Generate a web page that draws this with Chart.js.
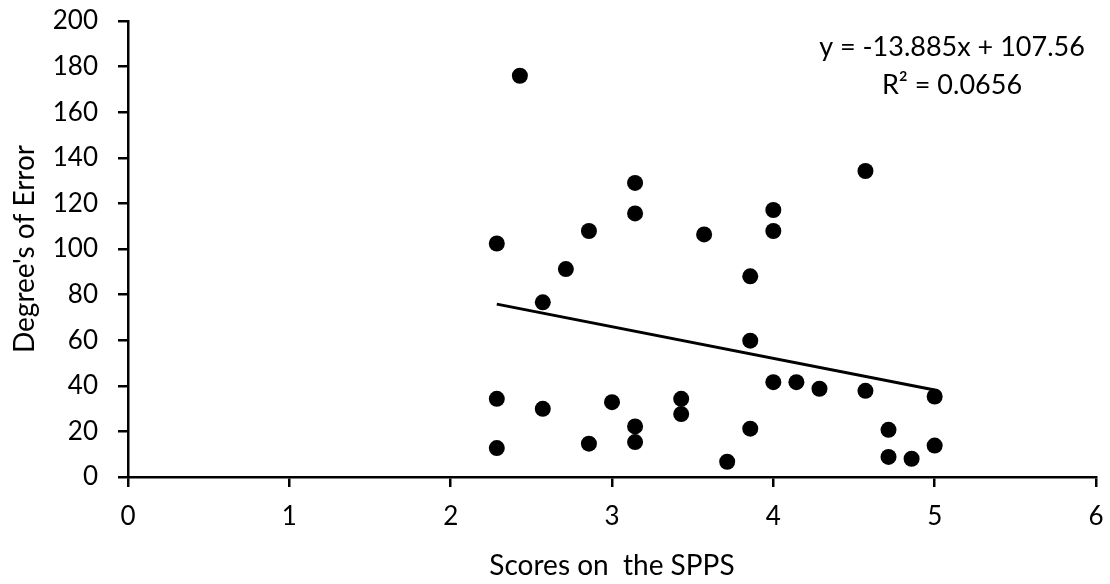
<!DOCTYPE html>
<html>
<head>
<meta charset="utf-8">
<script src="https://cdn.jsdelivr.net/npm/chart.js@4.4.1/dist/chart.umd.min.js"></script>
<style>
    html, body { margin: 0; padding: 0; background: #ffffff; }
    #wrap { width: 1110px; height: 584px; }
</style>
</head>
<body>
<div id="wrap"><canvas id="mainChart" width="1110" height="584"></canvas></div>
<script>
// scores on the SPPS (x) and degree's of error (y)
const SCORES = [2.429, 2.286, 2.857, 3.143, 3.143, 3.571, 4, 4, 2.714, 2.571, 3.857,
    3.857, 4, 2.286, 2.571, 3, 3.429, 3.429, 3.143, 3.143, 2.857, 2.286, 3.714,
    3.857, 4.143, 4.286, 4.571, 5, 4.714, 4.714, 4.857, 5, 4.571];
const ERRORS = [176, 102.4, 107.9, 129, 115.6, 106.4, 117.1, 107.9, 91.2, 76.6, 88,
    59.8, 41.6, 34.3, 29.9, 32.8, 34.3, 27.6, 22.2, 15.3, 14.6, 12.7, 6.7,
    21.2, 41.6, 38.7, 37.8, 35.3, 20.7, 8.8, 8.0, 13.8, 134.2];

// linear trendline as printed on the chart
const TREND_SLOPE = -13.885;
const TREND_INTERCEPT = 107.56;
const TREND_LABELS = ['y = -13.885x + 107.56', 'R\u00b2 = 0.0656'];

const X_TITLE = 'Scores on  the SPPS';
const Y_TITLE = "Degree's of Error";

function main() {
    Chart.defaults.font.family = 'Lato';
    Chart.defaults.font.size = 26;
    Chart.defaults.color = '#000000';

    const POINTS = SCORES.map((s, i) => ({ x: s, y: ERRORS[i] }));
    const X_LO = Math.min(...SCORES);
    const X_HI = Math.max(...SCORES);
    const TREND = [X_LO, X_HI].map(x => ({ x: x, y: TREND_SLOPE * x + TREND_INTERCEPT }));

    const trendText = {
        id: 'trendText',
        afterDatasetsDraw(chart) {
            const ctx = chart.ctx;
            const area = chart.chartArea;
            ctx.save();
            ctx.font = '27px Lato';
            ctx.fillStyle = '#000000';
            ctx.textAlign = 'center';
            ctx.textBaseline = 'middle';
            TREND_LABELS.forEach((t, i) => {
                ctx.fillText(t, area.right - 144, area.top + 26 + i * 38);
            });
            ctx.restore();
        }
    };

    const CTX = document.getElementById('mainChart').getContext('2d');
    return new Chart(CTX, {
        type: 'scatter',
        data: {
            datasets: [{
                type: 'line',
                data: TREND,
                borderColor: '#000000',
                borderWidth: 3,
                pointRadius: 0,
                fill: false
            }, {
                data: POINTS,
                backgroundColor: '#000000',
                borderWidth: 0,
                pointRadius: 8,
                pointHoverRadius: 8
            }]
        },
        options: {
            responsive: false,
            animation: false,
            devicePixelRatio: 1,
            layout: { autoPadding: false, padding: { left: 0, top: 21, right: 14, bottom: 0 } },
            plugins: {
                legend: { display: false },
                tooltip: { enabled: false }
            },
            scales: {
                x: {
                    type: 'linear',
                    min: 0,
                    max: 6,
                    ticks: { stepSize: 1, padding: 14 },
                    grid: { drawOnChartArea: false, drawTicks: true, tickLength: 10, color: '#000000', lineWidth: 2.5 },
                    border: { display: true, color: '#000000', width: 2.5 },
                    title: { display: true, text: X_TITLE, font: { size: 28, lineHeight: 1.2 }, padding: { top: 0, bottom: 1 } },
                    afterFit: (scale) => {
                        scale.height = 107;
                        scale.paddingLeft = 0;
                        scale.paddingRight = 0;
                    }
                },
                y: {
                    min: 0,
                    max: 200,
                    ticks: { stepSize: 20, padding: 20 },
                    grid: { drawOnChartArea: false, drawTicks: true, tickLength: 10, color: '#000000', lineWidth: 2.5 },
                    border: { display: true, color: '#000000', width: 2.5 },
                    title: { display: true, text: Y_TITLE, font: { size: 28, lineHeight: 1.2 }, padding: { top: 8, bottom: 0 } },
                    afterFit: (scale) => {
                        scale.width = 128;
                        scale.paddingTop = 0;
                        scale.paddingBottom = 0;
                    }
                }
            }
        },
        plugins: [trendText]
    });
}

main();
</script>
</body>
</html>
